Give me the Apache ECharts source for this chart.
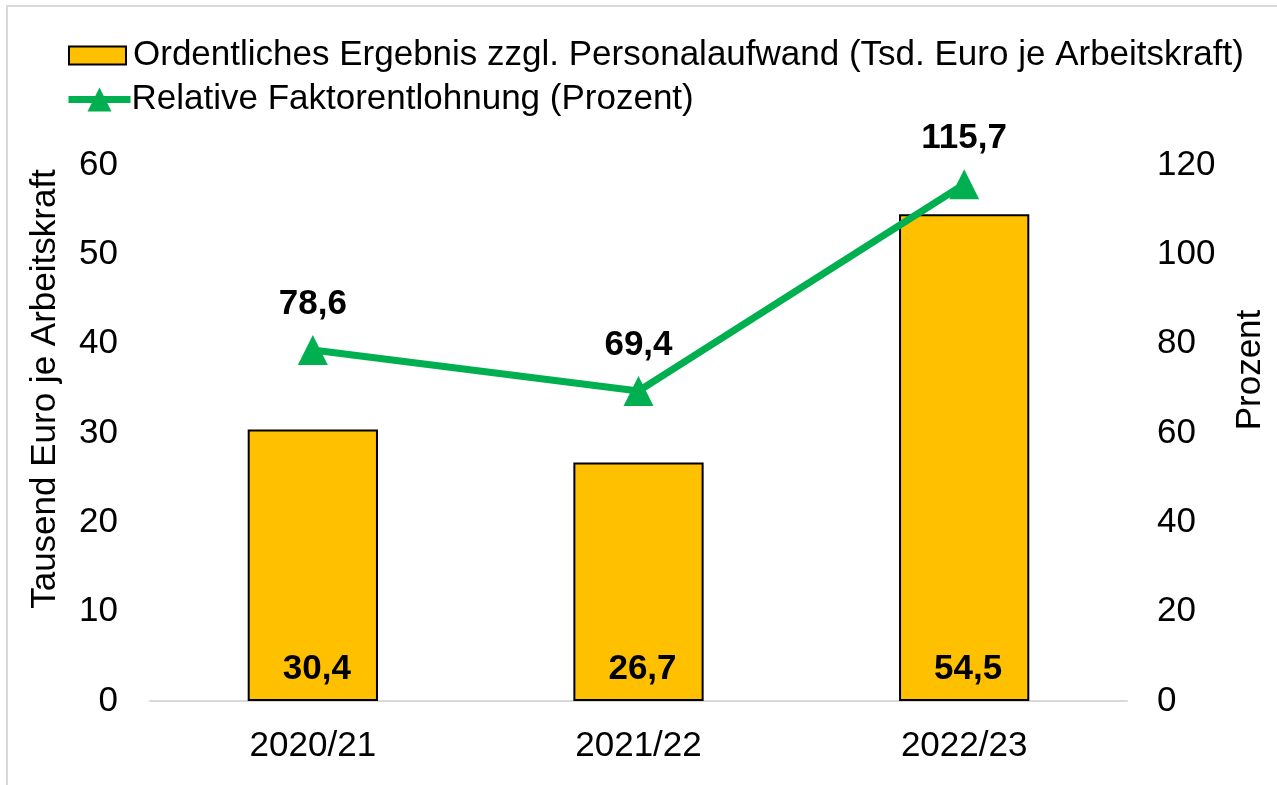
<!DOCTYPE html>
<html><head><meta charset="utf-8">
<script src="https://cdn.jsdelivr.net/npm/echarts@6/dist/echarts.min.js"></script>
<style>html,body{margin:0;padding:0;background:#fff}#c{width:1277px;height:785px}</style>
</head><body><div id="c"></div>
<script>
const categories = ['2020/21', '2021/22', '2022/23'];
const barValues = [30.4, 26.7, 54.5];
const lineValues = [78.6, 69.4, 115.7];
const barName = 'Ordentliches Ergebnis zzgl. Personalaufwand (Tsd. Euro je Arbeitskraft)';
const lineName = 'Relative Faktorentlohnung (Prozent)';
const leftAxisTitle = 'Tausend Euro je Arbeitskraft';
const rightAxisTitle = 'Prozent';
const fmt = v => v.toFixed(1).replace('.', ',');
const FF = '"Liberation Sans", Arial, sans-serif';
const FS = 35;

const chart = echarts.init(document.getElementById('c'), null, {renderer: 'canvas'});
chart.setOption({
  animation: false,
  textStyle: {fontFamily: FF},
  graphic: [
    {type: 'rect', shape: {x: 7, y: 6, width: 1300, height: 800}, style: {fill: 'none', stroke: '#d9d9d9', lineWidth: 2}, z: 0},
    {type: 'text', x: 45, y: 389, rotation: Math.PI / 2, style: {text: leftAxisTitle, font: FS + 'px ' + FF, fill: '#000', align: 'center', verticalAlign: 'middle'}},
    {type: 'text', x: 1250, y: 370, rotation: Math.PI / 2, style: {text: rightAxisTitle, font: FS + 'px ' + FF, fill: '#000', align: 'center', verticalAlign: 'middle'}}
  ],
  legend: [
    {left: 68, top: 38, itemWidth: 57, itemHeight: 18, padding: 0,
     textStyle: {fontSize: FS, color: '#000', fontFamily: FF, padding: [0, 0, 0, 2]},
     itemStyle: {borderColor: '#000', borderWidth: 2},
     data: [{name: barName, icon: 'rect'}]},
    {left: 65, top: 82, itemWidth: 62, itemHeight: 30, padding: 0,
     textStyle: {fontSize: FS, color: '#000', fontFamily: FF, padding: [0, 0, 0, -4]},
     lineStyle: {width: 7},
     data: [{name: lineName}]}
  ],
  grid: {left: 150, right: 150, top: 165, bottom: 84, containLabel: false},
  xAxis: {
    type: 'category', data: categories,
    axisLine: {lineStyle: {color: '#d9d9d9', width: 2}},
    axisTick: {show: false},
    axisLabel: {fontSize: FS, color: '#000', margin: 28, fontFamily: FF}
  },
  yAxis: [
    {type: 'value', min: 0, max: 60, interval: 10, splitLine: {show: false},
     axisLine: {show: false}, axisTick: {show: false},
     axisLabel: {fontSize: FS, color: '#000', margin: 32, fontFamily: FF}},
    {type: 'value', min: 0, max: 120, interval: 20, splitLine: {show: false},
     axisLine: {show: false}, axisTick: {show: false},
     axisLabel: {fontSize: FS, color: '#000', margin: 30, fontFamily: FF}}
  ],
  series: [
    {name: barName, type: 'bar', data: barValues, barWidth: '40%', yAxisIndex: 0,
     itemStyle: {color: '#FFC000', borderColor: '#000', borderWidth: 2},
     label: {show: true, position: 'insideBottom', distance: 14, offset: [4, 0], formatter: p => fmt(p.value),
             fontSize: FS, fontWeight: 'bold', color: '#000', fontFamily: FF}},
    {name: lineName, type: 'line', data: lineValues, yAxisIndex: 1,
     lineStyle: {color: '#00B050', width: 7}, itemStyle: {color: '#00B050'},
     symbol: 'triangle', symbolSize: 30,
     label: {show: true, position: 'top', distance: 13, formatter: p => fmt(p.value),
             fontSize: FS, fontWeight: 'bold', color: '#000', fontFamily: FF}}
  ]
});
</script></body></html>
